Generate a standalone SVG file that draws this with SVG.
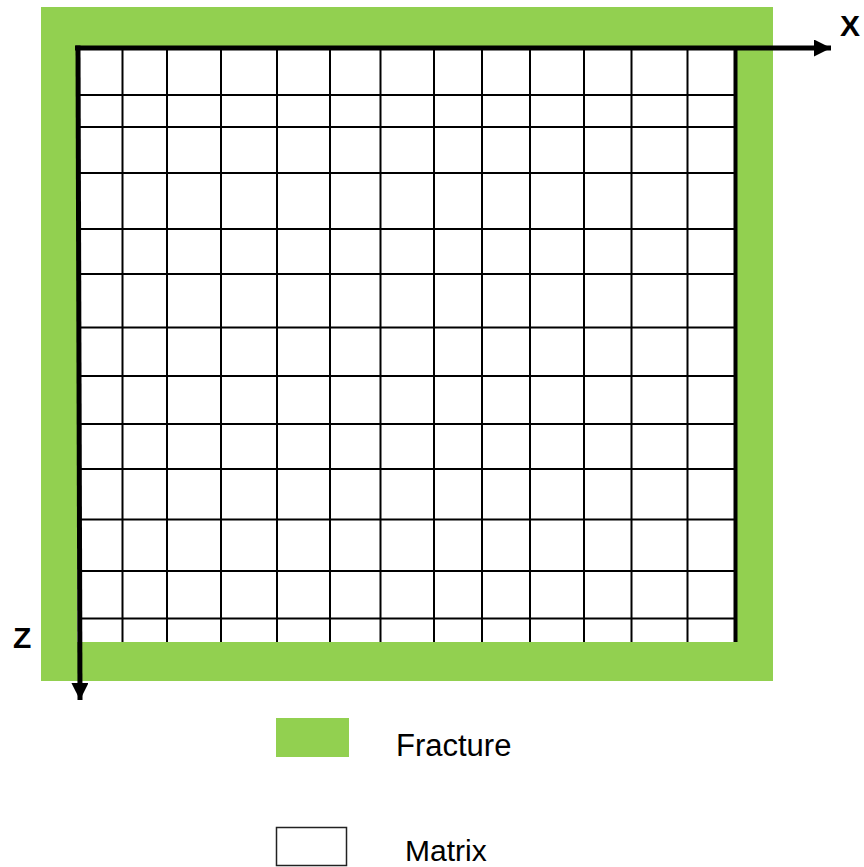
<svg xmlns="http://www.w3.org/2000/svg" width="864" height="867" viewBox="0 0 864 867">
<defs>
<style>
.frac{fill:#92D050;}
.grid line{stroke:#000;stroke-width:2;}
.axis{stroke:#000;stroke-width:5;fill:none;}
.lbl{font-family:"Liberation Sans",Arial,sans-serif;fill:#000;}
.axl{font-family:"Liberation Sans",Arial,sans-serif;font-weight:bold;font-size:30px;fill:#000;}
</style>
<marker id="ah" viewBox="0 0 10 10" refX="10" refY="5" markerWidth="3.4" markerHeight="3.4" markerUnits="strokeWidth" orient="auto">
<path d="M0,0 L10,5 L0,10 Z" fill="#000"/>
</marker>
</defs>
<rect width="864" height="867" fill="#fff"/>
<g id="fracture">
<rect class="frac" x="41" y="7" width="732" height="674"/>
</g>
<g id="matrix">
<rect x="77" y="47" width="659" height="595" fill="#fff"/>
<g class="grid">
<line x1="122.5" y1="48" x2="122.5" y2="642"/>
<line x1="167" y1="48" x2="167" y2="642"/>
<line x1="221" y1="48" x2="221" y2="642"/>
<line x1="277" y1="48" x2="277" y2="642"/>
<line x1="330" y1="48" x2="330" y2="642"/>
<line x1="380.5" y1="48" x2="380.5" y2="642"/>
<line x1="434" y1="48" x2="434" y2="642"/>
<line x1="482" y1="48" x2="482" y2="642"/>
<line x1="530" y1="48" x2="530" y2="642"/>
<line x1="584" y1="48" x2="584" y2="642"/>
<line x1="631.5" y1="48" x2="631.5" y2="642"/>
<line x1="687.5" y1="48" x2="687.5" y2="642"/>
<line x1="78" y1="95" x2="736" y2="95"/>
<line x1="78" y1="127" x2="736" y2="127"/>
<line x1="78" y1="173" x2="736" y2="173"/>
<line x1="78" y1="229" x2="736" y2="229"/>
<line x1="78" y1="274" x2="736" y2="274"/>
<line x1="78" y1="327.5" x2="736" y2="327.5"/>
<line x1="78" y1="376" x2="736" y2="376"/>
<line x1="78" y1="424" x2="736" y2="424"/>
<line x1="78" y1="469" x2="736" y2="469"/>
<line x1="78" y1="519.5" x2="736" y2="519.5"/>
<line x1="78" y1="571" x2="736" y2="571"/>
<line x1="78" y1="618.5" x2="736" y2="618.5"/>
</g>
<line x1="735.5" y1="46" x2="735.5" y2="642" stroke="#000" stroke-width="4"/>
</g>
<g id="connectors">
<line class="axis" x1="75" y1="48" x2="831" y2="48" marker-end="url(#ah)"/>
<line class="axis" x1="78" y1="45.5" x2="80" y2="700" stroke-width="4.5" marker-end="url(#ah)"/>
</g>
<g id="axis-labels">
<text class="axl" x="840" y="36">X</text>
<text class="axl" x="13" y="648">Z</text>
</g>
<g id="legend-fracture">
<rect class="frac" x="276" y="718" width="73" height="39"/>
<text class="lbl" x="396" y="756" font-size="31">Fracture</text>
</g>
<g id="legend-matrix">
<rect x="276.5" y="827.5" width="70" height="38" fill="#fff" stroke="#222" stroke-width="1.5"/>
<text class="lbl" x="405" y="861" font-size="30">Matrix</text>
</g>
</svg>
